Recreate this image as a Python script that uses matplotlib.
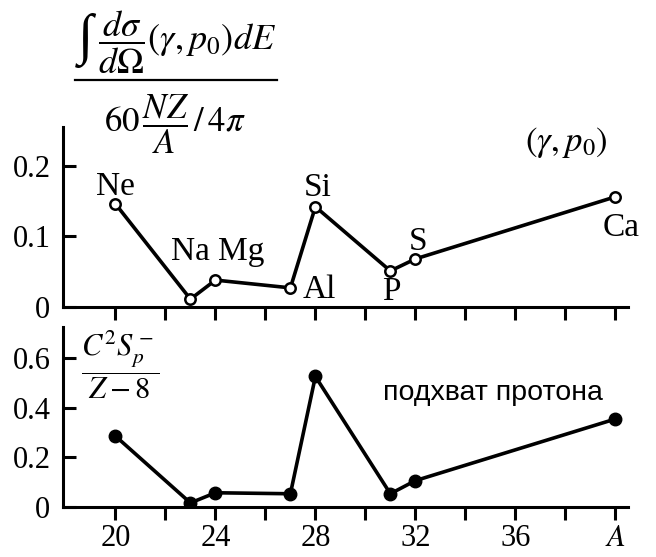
import matplotlib
matplotlib.use("Agg")
import matplotlib.pyplot as plt
from matplotlib.lines import Line2D

plt.rcParams['mathtext.fontset'] = 'stix'
plt.rcParams['font.family'] = 'Liberation Serif'

# mass numbers and element names
A = [20, 23, 24, 27, 28, 31, 32, 40]
elements = ['Ne', 'Na', 'Mg', 'Al', 'Si', 'P', 'S', 'Ca']

# integrated (gamma, p0) cross section, normalised
gp0 = [0.146, 0.011, 0.038, 0.027, 0.142, 0.051, 0.068, 0.156]
# proton capture strengths C^2 S / (Z-8)
capture = [0.286, 0.016, 0.057, 0.053, 0.527, 0.053, 0.106, 0.355]

xticks = [20, 24, 28, 32, 36, 40]
xticklabels = ['20', '24', '28', '32', '36', '$A$']

# where each element name sits (A, y)
name_pos = [(20.0, 0.170), (23.0, 0.078), (25.05, 0.078), (28.15, 0.024),
            (28.1, 0.169), (31.05, 0.021), (32.1, 0.092), (40.25, 0.112)]

fig = plt.figure(figsize=(6.56, 5.57), dpi=100)
ax1 = fig.add_axes([0.096, 0.449, 0.861, 0.323])
ax2 = fig.add_axes([0.096, 0.090, 0.861, 0.323])

for ax in (ax1, ax2):
    ax.set_xlim(17.9, 40.5)
    ax.spines['top'].set_visible(False)
    ax.spines['right'].set_visible(False)
    ax.spines['left'].set_linewidth(2.2)
    ax.spines['bottom'].set_linewidth(2.2)
    ax.set_xticks(range(20, 41, 2))
    ax.tick_params(axis='x', direction='out', length=9, width=2.2, labelsize=22)
    ax.tick_params(axis='y', direction='in', length=9, width=2.2, labelsize=22, pad=9)
    ax.set_facecolor('none')

ax1.set_xticklabels([])
labels = dict(zip(xticks, xticklabels))
ax2.set_xticklabels([labels.get(t, '') for t in range(20, 41, 2)])

# top panel
ax1.plot(A, gp0, '-o', color='black', lw=2.6, ms=7.5, mfc='white', mew=1.8)
ax1.set_ylim(0, 0.255)
ax1.set_yticks([0, 0.1, 0.2])
ax1.set_yticklabels(['0', '0.1', '0.2'])
for name, (x, y) in zip(elements, name_pos):
    ax1.text(x, y, name, fontsize=24, ha='center', va='center')

# bottom panel
ax2.plot(A, capture, '-o', color='black', lw=2.6, ms=9)
ax2.set_ylim(0, 0.727)
ax2.set_yticks([0, 0.2, 0.4, 0.6])
ax2.set_yticklabels(['0', '0.2', '0.4', '0.6'])
ax2.text(35.1, 0.461, 'подхват протона', fontsize=20.5, ha='center', va='center',
         family='Liberation Sans')
ax2.text(20.2, 0.572, r'$\dfrac{C^2S_p^-}{Z-8}$', fontsize=22, ha='center', va='center')

# y-axis title of the top panel: integral, numerator, bar, denominator
fig.text(85 / 656, 1 - 41 / 557, '∫', fontsize=40, ha='center', va='center')
fig.text(98 / 656, 1 - 42 / 557, r'$\dfrac{d\sigma}{d\Omega}(\gamma,p_0)dE$',
         fontsize=26, ha='left', va='center')
fig.add_artist(Line2D([75 / 656, 277 / 656], [1 - 80 / 557, 1 - 80 / 557],
                      color='black', lw=1.6))
fig.text(0.266, 1 - 124 / 557, r'$60\,\dfrac{NZ}{A}\,/\,4\pi$',
         fontsize=25, ha='center', va='center')

fig.text(0.863, 1 - 143 / 557, r'$(\gamma,p_0)$', fontsize=25, ha='center', va='center')

fig.savefig('out.png', dpi=100)
